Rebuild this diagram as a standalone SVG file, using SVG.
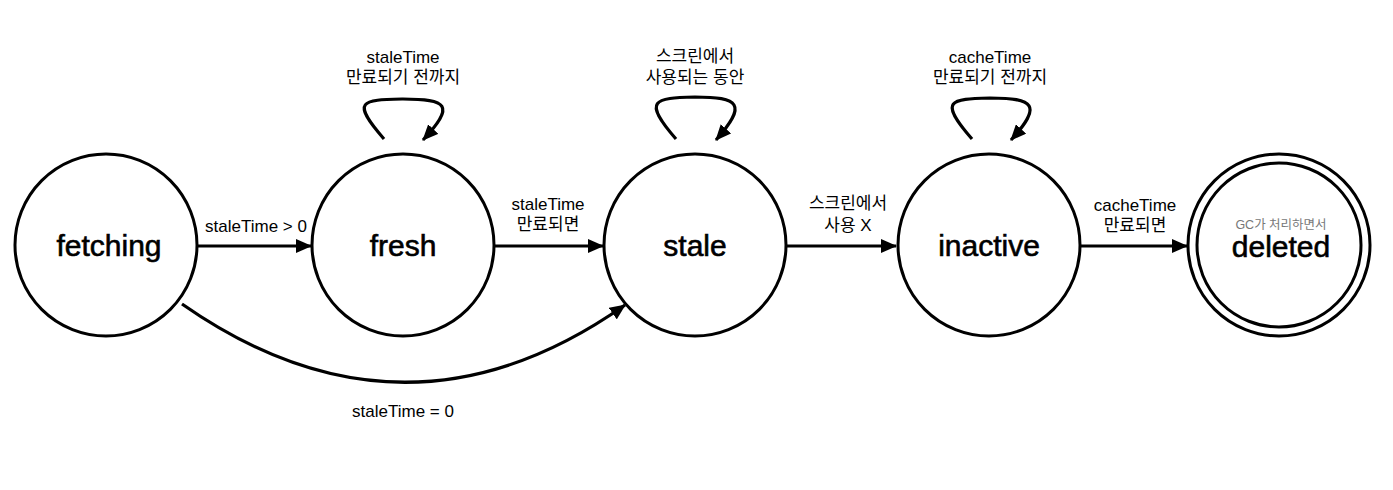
<svg xmlns="http://www.w3.org/2000/svg" width="1393" height="490" viewBox="0 0 1393 490">
<style>
.node{fill:#fff;stroke:#000;stroke-width:3}
.nl{font-family:"Liberation Sans",Arial,sans-serif;font-size:30px;fill:#000;stroke:#000;stroke-width:0.6;text-anchor:middle}
.el{font-family:"Liberation Sans","Noto Sans CJK KR",sans-serif;font-size:17px;fill:#000;text-anchor:middle}
.gc{font-family:"Liberation Sans","Noto Sans CJK KR",sans-serif;font-size:12.5px;fill:#777;text-anchor:middle}
.edge{fill:none;stroke:#000;stroke-width:3.2}
</style>
<defs>
<marker id="ah" markerUnits="userSpaceOnUse" markerWidth="16" markerHeight="14" refX="15" refY="7" orient="auto">
<path d="M0,0 L16,7 L0,14 z" fill="#000"/>
</marker>
</defs>
<g id="connectors">
<line class="edge" x1="197" y1="246" x2="311" y2="246" marker-end="url(#ah)"/>
<line class="edge" x1="494" y1="246" x2="603" y2="246" marker-end="url(#ah)"/>
<line class="edge" x1="787" y1="246" x2="896" y2="246" marker-end="url(#ah)"/>
<line class="edge" x1="1080" y1="246" x2="1187" y2="246" marker-end="url(#ah)"/>
<path class="edge" d="M182 304 Q 405 460 625 305" marker-end="url(#ah)"/>
<path class="edge" d="M384 139 C 350 100, 362 100, 403 99 C 447 99, 456 105, 423 140" marker-end="url(#ah)"/>
<path class="edge" d="M676 139 C 642 100, 654 98, 695 97 C 739 97, 748 104, 716 140" marker-end="url(#ah)"/>
<path class="edge" d="M972 139 C 938 100, 950 99, 990 98 C 1034 98, 1043 105, 1011 140" marker-end="url(#ah)"/>
<text class="el" x="256" y="232">staleTime &gt; 0</text>
<text class="el" x="548" y="210">staleTime</text>
<text class="el" x="548" y="230">만료되면</text>
<text class="el" x="848" y="209">스크린에서</text>
<text class="el" x="848" y="231">사용 X</text>
<text class="el" x="1135" y="211">cacheTime</text>
<text class="el" x="1135" y="231">만료되면</text>
<text class="el" x="403" y="417">staleTime = 0</text>
<text class="el" x="403" y="63">staleTime</text>
<text class="el" x="403" y="83">만료되기 전까지</text>
<text class="el" x="695" y="62">스크린에서</text>
<text class="el" x="695" y="83">사용되는 동안</text>
<text class="el" x="990" y="63">cacheTime</text>
<text class="el" x="990" y="83">만료되기 전까지</text>
</g>
<g id="fetching">
<circle class="node" cx="106" cy="245" r="91"/>
<text class="nl" x="109" y="256">fetching</text>
</g>
<g id="fresh">
<circle class="node" cx="403" cy="245" r="91"/>
<text class="nl" x="403" y="256">fresh</text>
</g>
<g id="stale">
<circle class="node" cx="695" cy="245" r="91"/>
<text class="nl" x="695" y="256">stale</text>
</g>
<g id="inactive">
<circle class="node" cx="989" cy="245" r="91"/>
<text class="nl" x="989" y="256">inactive</text>
</g>
<g id="deleted">
<circle class="node" cx="1279" cy="245" r="91"/>
<circle class="node" cx="1279" cy="245" r="82"/>
<text class="gc" x="1281" y="229">GC가 처리하면서</text>
<text class="nl" x="1281" y="257">deleted</text>
</g>
</svg>
